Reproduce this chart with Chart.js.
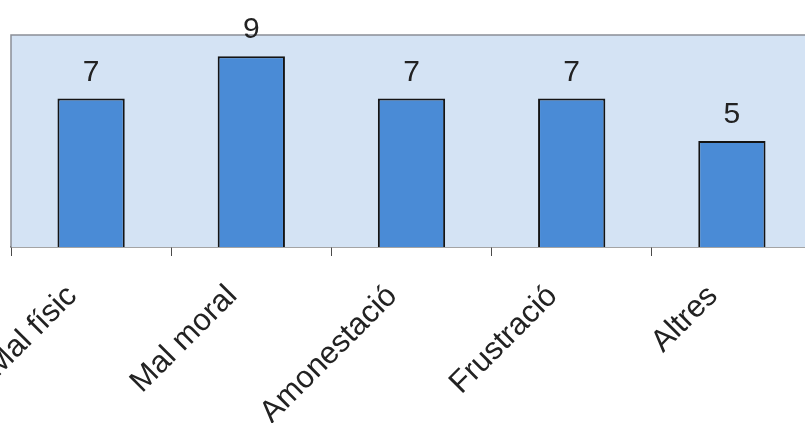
<!DOCTYPE html>
<html>
<head>
<meta charset="utf-8">
<script src="https://cdn.jsdelivr.net/npm/chart.js@4.4.1/dist/chart.umd.min.js"></script>
<style>
  html, body { margin: 0; padding: 0; background: #ffffff; overflow: hidden; }
  #wrap { width: 815px; height: 423px; }
</style>
</head>
<body>
<div id="wrap"><canvas id="c" width="815" height="423"></canvas></div>
<script>
const categories = ['Mal físic', 'Mal moral', 'Amonestació', 'Frustració', 'Altres'];
const counts = [7, 9, 7, 7, 5];
const yMax = 10;

// Plot area fill and frame, drawn behind the bars
const plotFrame = {
  id: 'plotFrame',
  beforeDatasetsDraw(chart) {
    const { ctx, chartArea: a } = chart;
    ctx.save();
    ctx.fillStyle = '#d4e3f4';
    ctx.fillRect(a.left, a.top, a.right - a.left, a.bottom - a.top);
    ctx.strokeStyle = '#8a8f96';
    ctx.lineWidth = 1.5;
    ctx.beginPath();
    ctx.moveTo(a.left, a.bottom);
    ctx.lineTo(a.left, a.top);
    ctx.lineTo(a.right, a.top);
    ctx.stroke();
    ctx.restore();
  }
};

// Count written above each bar
const valueLabels = {
  id: 'valueLabels',
  afterDatasetsDraw(chart) {
    const { ctx } = chart;
    const meta = chart.getDatasetMeta(0);
    ctx.save();
    ctx.font = '30px "Liberation Sans", Arial, sans-serif';
    ctx.fillStyle = '#222222';
    ctx.textAlign = 'center';
    ctx.textBaseline = 'alphabetic';
    meta.data.forEach((bar, i) => {
      ctx.fillText(String(counts[i]), bar.x, bar.y - 18);
    });
    ctx.restore();
  }
};

new Chart(document.getElementById('c'), {
  type: 'bar',
  data: {
    labels: categories,
    datasets: [{
      data: counts,
      backgroundColor: '#4a8bd6',
      borderColor: '#141414',
      borderWidth: 2,
      categoryPercentage: 1,
      barPercentage: 0.42
    }]
  },
  options: {
    responsive: false,
    animation: false,
    layout: { padding: { left: 11, right: 3, top: 35, bottom: 0 } },
    plugins: { legend: { display: false }, tooltip: { enabled: false } },
    scales: {
      y: { display: false, min: 0, max: yMax },
      x: {
        offset: true,
        border: { display: true, color: '#4a4a4a', width: 1.5 },
        grid: {
          offset: true,
          drawOnChartArea: false,
          drawTicks: true,
          tickLength: 9,
          color: '#4a4a4a',
          lineWidth: 1
        },
        ticks: {
          autoSkip: false,
          maxRotation: 45,
          minRotation: 45,
          padding: 22,
          labelOffset: -19,
          color: '#222222',
          font: { family: '"Liberation Sans", Arial, sans-serif', size: 31 }
        },
        afterFit(scale) {
          scale.height = 176;
          scale.paddingLeft = 0;
          scale.paddingRight = 0;
        }
      }
    }
  },
  plugins: [plotFrame, valueLabels]
});
</script>
</body>
</html>
